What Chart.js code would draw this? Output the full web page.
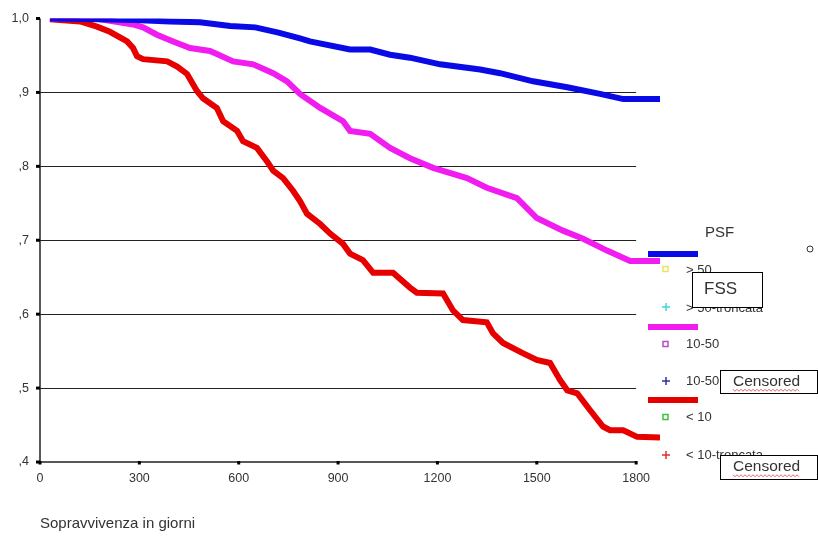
<!DOCTYPE html>
<html>
<head>
<meta charset="utf-8">
<script src="https://cdn.jsdelivr.net/npm/chart.js@4"></script>
<style>
  html, body { margin: 0; padding: 0; background: #fff; }
  #wrap { width: 818px; height: 539px; position: relative; }
</style>
</head>
<body>
<div id="wrap"><canvas id="chart" width="818" height="539"></canvas></div>
<script>
// Survival curves (days, cumulative survival)
const daysHigh = [30, 181, 287, 393, 483, 574, 650, 720, 785, 815, 936, 997, 1057, 1117, 1208, 1329, 1389, 1489, 1592, 1691, 1761, 1872];
const survHigh = [1.0, 0.999, 0.998, 0.996, 0.995, 0.99, 0.988, 0.981, 0.973, 0.969, 0.958, 0.958, 0.951, 0.947, 0.938, 0.931, 0.926, 0.915, 0.907, 0.898, 0.891, 0.891];

const daysMid = [30, 166, 211, 281, 311, 353, 402, 453, 513, 534, 583, 644, 704, 746, 785, 846, 915, 936, 997, 1057, 1117, 1187, 1289, 1349, 1440, 1500, 1579, 1640, 1712, 1782, 1872];
const survMid = [1.0, 1.0, 0.997, 0.992, 0.988, 0.978, 0.969, 0.96, 0.956, 0.952, 0.942, 0.938, 0.926, 0.915, 0.898, 0.879, 0.861, 0.848, 0.844, 0.825, 0.811, 0.798, 0.784, 0.771, 0.757, 0.73, 0.713, 0.702, 0.686, 0.672, 0.672];

const daysLow = [30, 121, 172, 211, 263, 281, 293, 311, 384, 414, 444, 474, 492, 534, 553, 595, 613, 655, 685, 704, 734, 764, 785, 806, 846, 876, 915, 936, 975, 1006, 1066, 1117, 1138, 1217, 1247, 1277, 1349, 1368, 1398, 1459, 1500, 1540, 1570, 1592, 1622, 1661, 1700, 1721, 1761, 1803, 1872];
const survLow = [0.999, 0.996, 0.989, 0.982, 0.969, 0.96, 0.949, 0.945, 0.942, 0.935, 0.925, 0.902, 0.892, 0.879, 0.861, 0.848, 0.834, 0.825, 0.807, 0.794, 0.784, 0.767, 0.753, 0.736, 0.722, 0.709, 0.695, 0.682, 0.673, 0.656, 0.656, 0.636, 0.629, 0.628, 0.605, 0.592, 0.589, 0.574, 0.561, 0.547, 0.538, 0.534, 0.511, 0.497, 0.493, 0.47, 0.448, 0.443, 0.443, 0.434, 0.433];

const xTicks = [0, 300, 600, 900, 1200, 1500, 1800];
const yTicks = [1.0, 0.9, 0.8, 0.7, 0.6, 0.5, 0.4];
const yTickLabels = ['1,0', ',9', ',8', ',7', ',6', ',5', ',4'];
const gridValues = [0.9, 0.8, 0.7, 0.6, 0.5];

const legendTitle = 'PSF';
const legendLabels = ['> 50', '> 50-troncata', '10-50', '10-50', '< 10', '< 10-troncata'];

const BLUE = '#0a0ae6', MAGENTA = '#f01cf0', RED = '#e60000';
const FONT = '"Liberation Sans", Arial, sans-serif';

function toPoints(xs, ys) {
  return xs.map((x, i) => ({ x, y: ys[i] }));
}

// axes, grid lines, tick marks
const axesPlugin = {
  id: 'axes',
  beforeDatasetsDraw(chart) {
    const { ctx, scales: { x, y } } = chart;
    const x0 = x.getPixelForValue(0), x1 = x.getPixelForValue(1800);
    const yTop = y.getPixelForValue(1.0), yBot = y.getPixelForValue(0.4);
    ctx.save();
    ctx.strokeStyle = '#222';
    ctx.lineWidth = 1;
    gridValues.forEach(v => {
      const py = Math.round(y.getPixelForValue(v)) + 0.5;
      ctx.beginPath(); ctx.moveTo(x0, py); ctx.lineTo(x1, py); ctx.stroke();
    });
    ctx.lineWidth = 1.5;
    ctx.beginPath(); ctx.moveTo(x0, yTop); ctx.lineTo(x0, yBot); ctx.lineTo(x1, yBot); ctx.stroke();
    ctx.fillStyle = '#000';
    yTicks.forEach(v => ctx.fillRect(x0 - 4, y.getPixelForValue(v) - 1.5, 4, 3));
    xTicks.forEach(v => ctx.fillRect(x.getPixelForValue(v) - 1.5, yBot - 1, 3, 3.5));
    ctx.restore();
  }
};

// hand-laid legend with the overlapping text boxes
const legendPlugin = {
  id: 'psfLegend',
  afterDraw(chart) {
    const { ctx } = chart;
    ctx.save();
    ctx.textBaseline = 'middle';
    ctx.fillStyle = '#333';
    ctx.font = '15px ' + FONT;
    ctx.fillText(legendTitle, 705, 233);

    const bar = (y, c) => { ctx.fillStyle = c; ctx.fillRect(648, y - 3, 50, 6); };
    const square = (y, c) => { ctx.strokeStyle = c; ctx.lineWidth = 1.5; ctx.strokeRect(663, y - 2.5, 5, 5); };
    const plus = (y, c) => {
      ctx.strokeStyle = c; ctx.lineWidth = 1.5;
      ctx.beginPath(); ctx.moveTo(662, y); ctx.lineTo(670, y); ctx.moveTo(666, y - 4); ctx.lineTo(666, y + 4); ctx.stroke();
    };
    const label = (y, i) => { ctx.fillStyle = '#333'; ctx.font = '13px ' + FONT; ctx.fillText(legendLabels[i], 686, y); };

    bar(254, BLUE);
    square(269, '#e6e65a'); label(270, 0);
    plus(307, '#40d8d8'); label(308, 1);
    bar(327, MAGENTA);
    square(344, '#b050c8'); label(344, 2);
    plus(381, '#3030a0'); label(381, 3);
    bar(400, RED);
    square(417, '#40c040'); label(417, 4);
    plus(455, '#e03030'); label(455, 5);

    const box = (bx, by, w, h, text, size, tx, squiggle) => {
      ctx.fillStyle = '#fff';
      ctx.fillRect(bx, by, w, h);
      ctx.strokeStyle = '#000'; ctx.lineWidth = 1;
      ctx.strokeRect(bx + 0.5, by + 0.5, w, h);
      ctx.fillStyle = '#333';
      ctx.font = size + 'px ' + FONT;
      ctx.fillText(text, tx, by + h / 2);
      if (squiggle) {
        const wText = ctx.measureText(text).width;
        const uy = by + h / 2 + size / 2 + 1;
        ctx.strokeStyle = '#d04040'; ctx.lineWidth = 0.8;
        ctx.beginPath();
        for (let sx = tx; sx <= tx + wText; sx += 2) {
          const sy = uy + (((sx - tx) / 2) % 2 ? 1 : -1);
          if (sx === tx) ctx.moveTo(sx, sy); else ctx.lineTo(sx, sy);
        }
        ctx.stroke();
      }
    };
    box(692, 272, 70, 35, 'FSS', 17, 704, false);
    box(720, 370, 97, 23, 'Censored', 15.5, 733, true);
    box(720, 455, 97, 24, 'Censored', 15.5, 733, true);

    ctx.strokeStyle = '#333'; ctx.lineWidth = 1;
    ctx.beginPath(); ctx.arc(810, 249, 3, 0, Math.PI * 2); ctx.stroke();
    ctx.restore();
  }
};

const lineStyle = c => ({
  borderColor: c, backgroundColor: c, borderWidth: 6, pointRadius: 0,
  tension: 0, fill: false, borderJoinStyle: 'miter', borderCapStyle: 'butt'
});

new Chart(document.getElementById('chart'), {
  type: 'line',
  data: {
    datasets: [
      { label: '> 50', data: toPoints(daysHigh, survHigh), ...lineStyle(BLUE) },
      { label: '10-50', data: toPoints(daysMid, survMid), ...lineStyle(MAGENTA) },
      { label: '< 10', data: toPoints(daysLow, survLow), ...lineStyle(RED) },
    ]
  },
  options: {
    responsive: false,
    animation: false,
    layout: { padding: { left: 0, top: 17, right: 158, bottom: 0 } },
    plugins: { legend: { display: false }, tooltip: { enabled: false } },
    scales: {
      x: {
        type: 'linear', min: 0, max: 1872,
        grid: { display: false, drawTicks: false },
        border: { display: false },
        afterBuildTicks: s => { s.ticks = xTicks.map(v => ({ value: v })); },
        afterFit: s => { s.height = 77; },
        ticks: { color: '#333', font: { family: FONT, size: 12.5 }, padding: 9, maxRotation: 0, autoSkip: false,
                 callback: v => String(v) },
        title: { display: true, text: 'Sopravvivenza in giorni', align: 'start', color: '#333',
                 font: { family: FONT, size: 15 }, padding: { top: 0, bottom: 6 } }
      },
      y: {
        min: 0.4, max: 1.0,
        grid: { display: false, drawTicks: false },
        border: { display: false },
        afterBuildTicks: s => { s.ticks = yTicks.map(v => ({ value: v })); },
        afterFit: s => { s.width = 40; },
        ticks: {
          color: '#333', font: { family: FONT, size: 12.5 }, padding: 11,
          callback: v => yTickLabels[yTicks.findIndex(t => Math.abs(t - v) < 1e-6)]
        }
      }
    }
  },
  plugins: [axesPlugin, legendPlugin]
});
</script>
</body>
</html>
